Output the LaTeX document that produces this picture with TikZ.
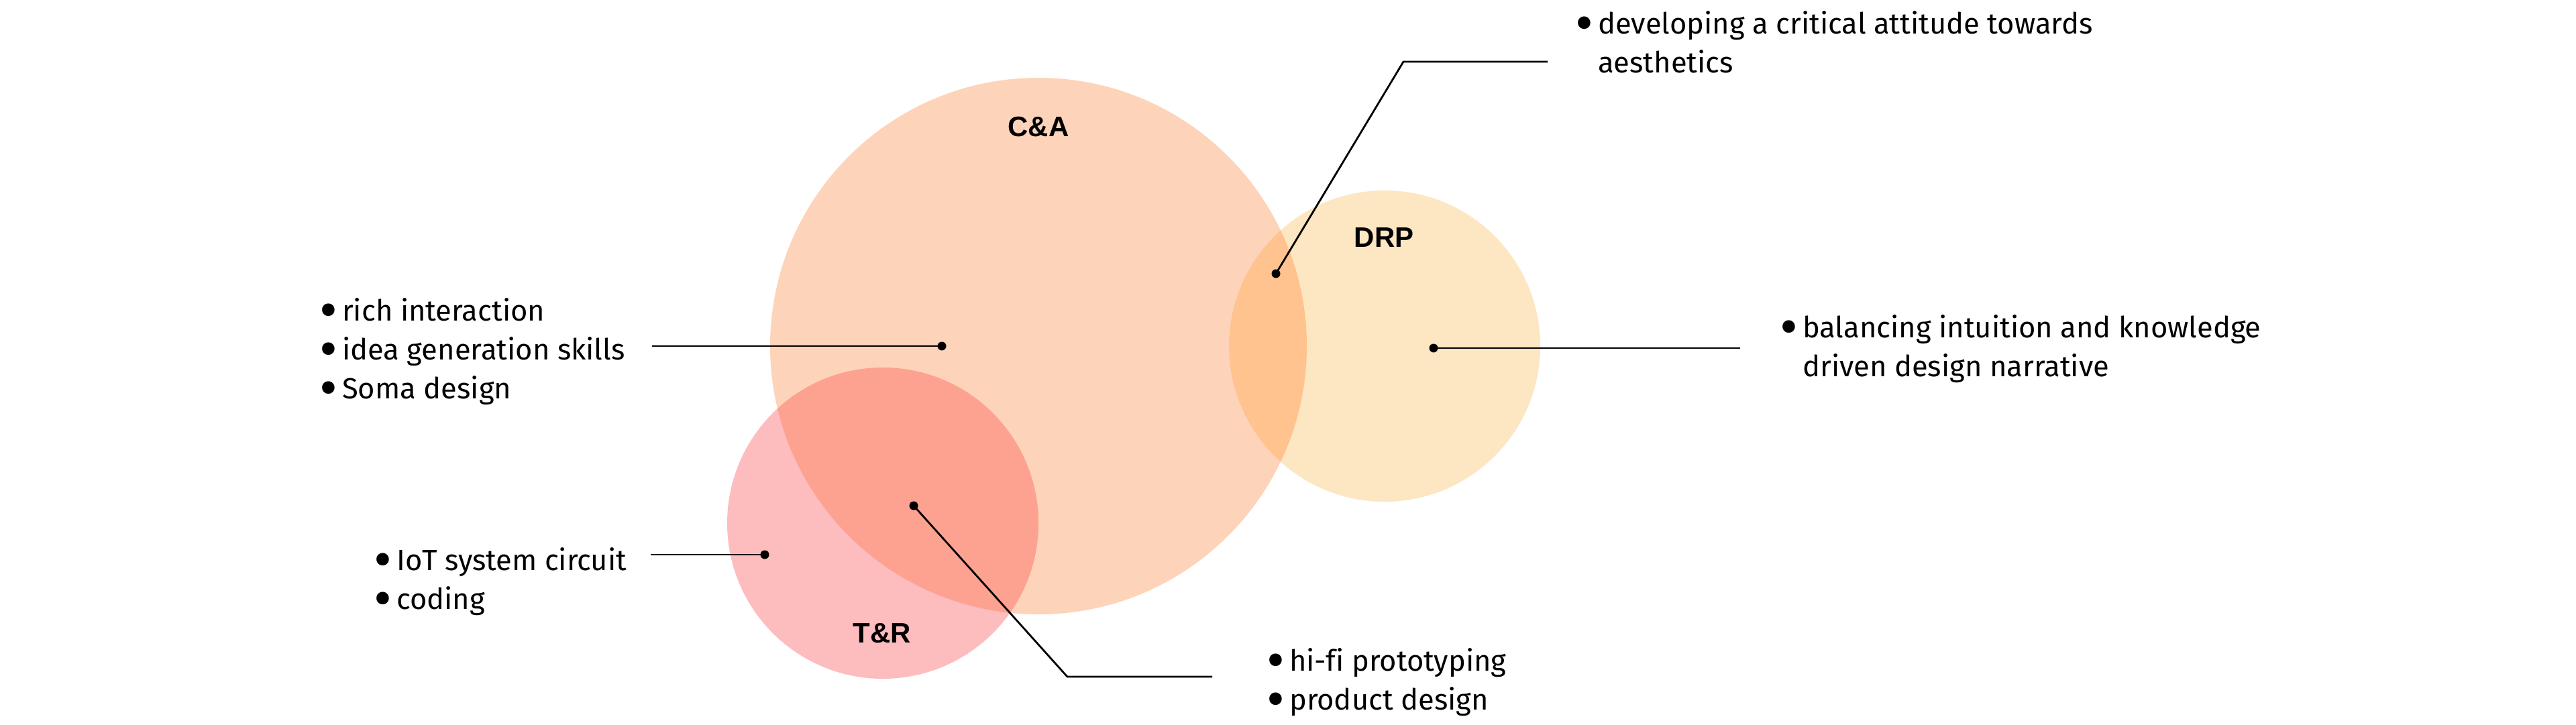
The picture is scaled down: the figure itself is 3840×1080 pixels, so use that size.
\documentclass[tikz,border=0pt]{standalone}
\usepackage{fontspec}
\setmainfont[Ligatures={NoCommon}]{Fira Sans}
\newfontfamily\labelfont{Liberation Sans}
\definecolor{cCA}{HTML}{FDD4B9}
\definecolor{cDRP}{HTML}{FDE6C2}
\definecolor{cTR}{HTML}{FDBCBD}
\definecolor{cCATR}{HTML}{FDA291}
\definecolor{cCADRP}{HTML}{FEC38F}
\newcommand{\bul}{\makebox[34pt][l]{\smash{\raisebox{-12pt}{\scalebox{1.9}{•}}}}}
\begin{document}
\begin{tikzpicture}[x=1pt,y=-1pt,
  setlabel/.style={font=\labelfont\bfseries\fontsize{42}{50}\selectfont, inner sep=0, anchor=base},
  listtext/.style={font=\fontsize{43.5}{58}\selectfont, inner sep=0, anchor=base west},
  conn/.style={line width=2.8pt, black},
  dotmark/.style={circle, fill=black, inner sep=0, minimum size=13pt}]
\useasboundingbox (0,0) rectangle (3840,1080);
\fill[white] (0,0) rectangle (3840,1080);
% circles
\fill[cCA] (1548,516) circle[radius=400];
\fill[cDRP] (2064,516) circle[radius=232];
\fill[cTR] (1316,780) circle[radius=232];
\begin{scope}
  \clip (1548,516) circle[radius=400];
  \fill[cCATR] (1316,780) circle[radius=232];
  \fill[cCADRP] (2064,516) circle[radius=232];
\end{scope}
% set labels
\node[setlabel] (lCA) at (1548,203) {C\&A};
\node[setlabel] (lDRP) at (2063,368) {DRP};
\node[setlabel] (lTR) at (1315,958) {T\&R};
% dots
\node[dotmark] (dCA) at (1404,516) {};
\node[dotmark] (dDRP) at (2137,519) {};
\node[dotmark] (dTR) at (1140,827) {};
\node[dotmark] (dCATR) at (1362,754) {};
\node[dotmark] (dCADRP) at (1902,408) {};
% connector ends
\coordinate (eCA) at (972,516);
\coordinate (eDRP) at (2594,519);
\coordinate (eTR) at (970,827);
\coordinate (bCATR) at (1591,1009);
\coordinate (eCATR) at (1807,1009);
\coordinate (bCADRP) at (2092,92);
\coordinate (eCADRP) at (2307,92);
\draw[conn] (dCA.center) -- (eCA);
\draw[conn] (dDRP.center) -- (eDRP);
\draw[conn] (dTR.center) -- (eTR);
\draw[conn] (dCATR.center) -- (bCATR) -- (eCATR);
\draw[conn] (dCADRP.center) -- (bCADRP) -- (eCADRP);
% lists
\node[listtext] (tCA) at (476,478) {\begin{tabular}[t]{@{}l@{}}\bul rich interaction\\ \bul idea generation skills\\ \bul Soma design\end{tabular}};
\node[listtext] (tTR) at (557,850) {\begin{tabular}[t]{@{}l@{}}\bul IoT system circuit\\ \bul coding\end{tabular}};
\node[listtext] (tCATR) at (1888,1000) {\begin{tabular}[t]{@{}l@{}}\bul hi-fi prototyping\\ \bul product design\end{tabular}};
\node[listtext] (tCADRP) at (2348,50) {\begin{tabular}[t]{@{}l@{}}\bul developing a critical attitude towards\\ \hspace*{34pt}aesthetics\end{tabular}};
\node[listtext] (tDRP) at (2653,503) {\begin{tabular}[t]{@{}l@{}}\bul balancing intuition and knowledge\\ \hspace*{34pt}driven design narrative\end{tabular}};
\end{tikzpicture}
\end{document}
